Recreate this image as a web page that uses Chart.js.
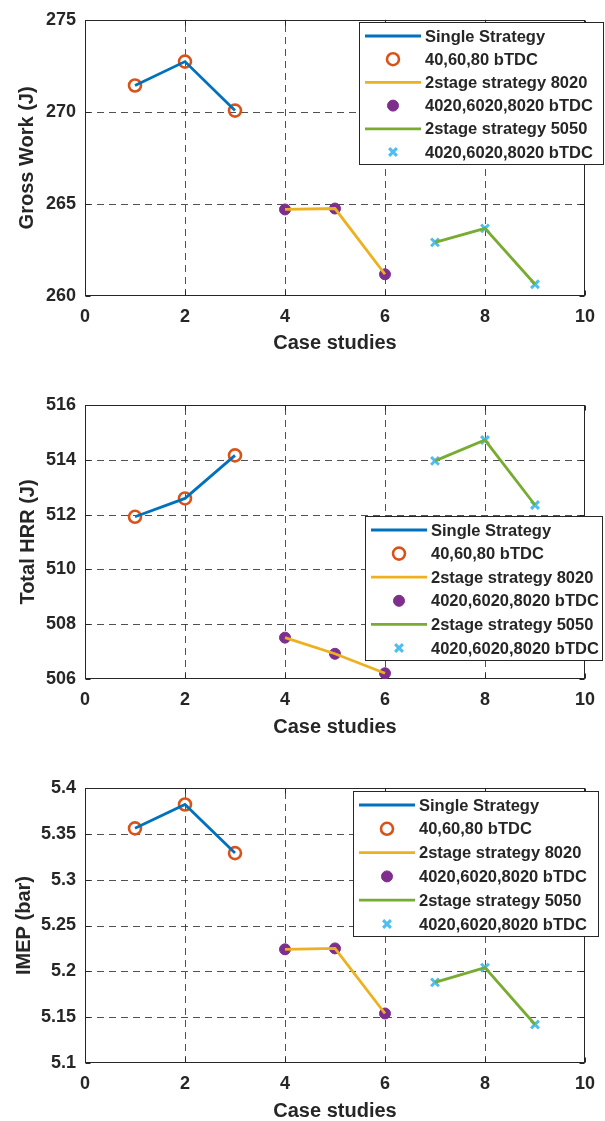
<!DOCTYPE html>
<html lang="en">
<head>
    <meta charset="UTF-8">
    <title>Gross work, total HRR and IMEP by case study</title>
    <script src="https://cdn.jsdelivr.net/npm/chart.js"></script>
    <style>
        body {
            margin: 0;
            background: #fff;
            width: 605px;
            height: 1121px;
            position: relative;
            overflow: hidden;
        }
        .panel {
            position: absolute;
            left: 0;
            width: 605px;
        }
    </style>
</head>
<body>
    <div class="panel" style="top:0;height:360px"><canvas id="grossChart"></canvas></div>
    <div class="panel" style="top:380px;height:360px"><canvas id="hrrChart"></canvas></div>
    <div class="panel" style="top:760px;height:361px"><canvas id="imepChart"></canvas></div>

    <script>
        // case numbers for each injection strategy
        const caseSingle = [1, 2, 3];
        const case8020 = [4, 5, 6];
        const case5050 = [7, 8, 9];

        // gross work (J)
        const grossSingle = [271.43, 272.73, 270.07];
        const gross8020 = [264.70, 264.75, 261.18];
        const gross5050 = [262.91, 263.67, 260.64];

        // total heat release (J)
        const hrrSingle = [511.92, 512.59, 514.16];
        const hrr8020 = [507.51, 506.92, 506.21];
        const hrr5050 = [513.96, 514.72, 512.35];

        // IMEP (bar)
        const imepSingle = [5.356, 5.382, 5.329];
        const imep8020 = [5.224, 5.225, 5.154];
        const imep5050 = [5.188, 5.204, 5.142];

        const seriesLabels = [
            'Single Strategy', '40,60,80 bTDC',
            '2stage strategy 8020', '4020,6020,8020 bTDC',
            '2stage strategy 5050', '4020,6020,8020 bTDC'
        ];

        // axis ticks
        const caseTicks = [0, 2, 4, 6, 8, 10];
        const grossTicks = [260, 265, 270, 275];
        const hrrTicks = [506, 508, 510, 512, 514, 516];
        const imepTicks = [5.1, 5.15, 5.2, 5.25, 5.3, 5.35, 5.4];

        const FONT = "'Liberation Sans', Arial, Helvetica, sans-serif";
        const INK = '#262626';

        function pts(xs, ys) {
            return xs.map((x, i) => ({ x: x, y: ys[i] }));
        }

        // each strategy is a line plus a separate marker series, as in the legend
        function makeDatasets(single, s8020, s5050) {
            return [
                { label: seriesLabels[0], data: pts(caseSingle, single), showLine: true,
                  borderColor: '#0072BD', borderWidth: 2.8, pointRadius: 0 },
                { label: seriesLabels[1], data: pts(caseSingle, single), showLine: false,
                  pointStyle: 'circle', pointRadius: 6, pointBorderWidth: 2.6,
                  borderColor: '#D95319', backgroundColor: 'rgba(0,0,0,0)' },
                { label: seriesLabels[2], data: pts(case8020, s8020), showLine: true,
                  borderColor: '#EDB120', borderWidth: 2.8, pointRadius: 0 },
                { label: seriesLabels[3], data: pts(case8020, s8020), showLine: false,
                  pointStyle: 'circle', pointRadius: 5.5, pointBorderWidth: 1,
                  borderColor: '#7E2F8E', backgroundColor: '#7E2F8E' },
                { label: seriesLabels[4], data: pts(case5050, s5050), showLine: true,
                  borderColor: '#77AC30', borderWidth: 2.8, pointRadius: 0 },
                { label: seriesLabels[5], data: pts(case5050, s5050), showLine: false,
                  pointStyle: 'crossRot', pointRadius: 5.5, pointBorderWidth: 3,
                  borderColor: '#4DBEEE', backgroundColor: '#4DBEEE' }
            ];
        }

        // dashed grid, boxed axes and inward tick marks
        const axesFrame = {
            id: 'axesFrame',
            beforeDatasetsDraw(chart) {
                const { ctx, chartArea: a, scales: { x, y } } = chart;
                ctx.save();
                ctx.strokeStyle = 'rgba(38,38,38,0.8)';
                ctx.lineWidth = 1;
                ctx.setLineDash([7, 5]);
                x.ticks.forEach(t => {
                    const px = Math.round(x.getPixelForValue(t.value)) + 0.5;
                    if (px < a.left + 2 || px > a.right - 2) return;
                    ctx.beginPath();
                    ctx.moveTo(px, a.bottom);
                    ctx.lineTo(px, a.top);
                    ctx.stroke();
                });
                y.ticks.forEach(t => {
                    const py = Math.round(y.getPixelForValue(t.value)) + 0.5;
                    if (py < a.top + 2 || py > a.bottom - 2) return;
                    ctx.beginPath();
                    ctx.moveTo(a.left, py);
                    ctx.lineTo(a.right, py);
                    ctx.stroke();
                });
                ctx.setLineDash([]);
                ctx.strokeStyle = INK;
                const l = Math.round(a.left) + 0.5, r = Math.round(a.right) - 0.5;
                const t = Math.round(a.top) + 0.5, b = Math.round(a.bottom) - 0.5;
                ctx.strokeRect(l, t, r - l, b - t);
                ctx.beginPath();
                x.ticks.forEach(tk => {
                    const px = Math.round(x.getPixelForValue(tk.value)) + 0.5;
                    ctx.moveTo(px, b); ctx.lineTo(px, b - 5);
                    ctx.moveTo(px, t); ctx.lineTo(px, t + 5);
                });
                y.ticks.forEach(tk => {
                    const py = Math.round(y.getPixelForValue(tk.value)) + 0.5;
                    ctx.moveTo(l, py); ctx.lineTo(l + 5, py);
                    ctx.moveTo(r, py); ctx.lineTo(r - 5, py);
                });
                ctx.stroke();
                ctx.restore();
            }
        };

        // boxed legend with separate line and marker rows
        const boxLegend = {
            id: 'boxLegend',
            afterDraw(chart, args, opts) {
                const ctx = chart.ctx;
                const { left, top, width, height } = opts;
                ctx.save();
                ctx.fillStyle = '#fff';
                ctx.fillRect(left, top, width, height);
                ctx.strokeStyle = INK;
                ctx.lineWidth = 1;
                ctx.strokeRect(left + 0.5, top + 0.5, width, height);

                const n = chart.data.datasets.length;
                const gap = (height - 26) / (n - 1);
                chart.data.datasets.forEach((ds, i) => {
                    const cy = top + 14 + gap * i;
                    if (ds.showLine) {
                        ctx.strokeStyle = ds.borderColor;
                        ctx.lineWidth = ds.borderWidth;
                        ctx.beginPath();
                        ctx.moveTo(left + 6, cy);
                        ctx.lineTo(left + 62, cy);
                        ctx.stroke();
                    } else {
                        ctx.strokeStyle = ds.borderColor;
                        ctx.fillStyle = ds.backgroundColor;
                        ctx.lineWidth = ds.pointBorderWidth;
                        Chart.helpers.drawPoint(ctx, {
                            pointStyle: ds.pointStyle,
                            radius: ds.pointRadius,
                            rotation: 0,
                            borderWidth: ds.pointBorderWidth
                        }, left + 34, cy);
                    }
                    ctx.fillStyle = INK;
                    ctx.font = 'bold 16.5px ' + FONT;
                    ctx.textAlign = 'left';
                    ctx.textBaseline = 'middle';
                    ctx.fillText(ds.label, left + 66, cy + 1);
                });
                ctx.restore();
            }
        };

        function buildChart(id, cfg) {
            return new Chart(document.getElementById(id), {
                type: 'scatter',
                data: { datasets: makeDatasets(cfg.single, cfg.s8020, cfg.s5050) },
                plugins: [axesFrame, boxLegend],
                options: {
                    responsive: true,
                    maintainAspectRatio: false,
                    animation: false,
                    layout: { padding: { top: cfg.padTop, right: 11, bottom: 0, left: 0 } },
                    plugins: {
                        legend: { display: false },
                        tooltip: { enabled: false },
                        boxLegend: cfg.legend
                    },
                    scales: {
                        x: {
                            type: 'linear',
                            min: caseTicks[0],
                            max: caseTicks[caseTicks.length - 1],
                            afterBuildTicks: s => { s.ticks = caseTicks.map(v => ({ value: v })); },
                            afterFit: s => { s.height = cfg.xAxisH; },
                            grid: { display: false, drawTicks: false },
                            border: { display: false },
                            ticks: {
                                padding: 10,
                                color: INK,
                                font: { family: FONT, size: 18, weight: 'bold' },
                                callback: v => String(v)
                            },
                            title: {
                                display: true,
                                text: 'Case studies',
                                color: INK,
                                font: { family: FONT, size: 20, weight: 'bold', lineHeight: 1 },
                                padding: { top: 0, bottom: cfg.xTitlePad }
                            }
                        },
                        y: {
                            type: 'linear',
                            min: cfg.ticks[0],
                            max: cfg.ticks[cfg.ticks.length - 1],
                            afterBuildTicks: s => { s.ticks = cfg.ticks.map(v => ({ value: v })); },
                            afterFit: s => { s.width = 85; },
                            grid: { display: false, drawTicks: false },
                            border: { display: false },
                            ticks: {
                                padding: 9,
                                color: INK,
                                font: { family: FONT, size: 18, weight: 'bold' },
                                callback: v => String(v)
                            },
                            title: {
                                display: true,
                                text: cfg.yTitle,
                                color: INK,
                                font: { family: FONT, size: 20, weight: 'bold', lineHeight: 1 },
                                padding: { top: cfg.yTitlePad, bottom: 0 }
                            }
                        }
                    }
                }
            });
        }

        buildChart('grossChart', {
            single: grossSingle, s8020: gross8020, s5050: gross5050,
            ticks: grossTicks, yTitle: 'Gross Work (J)',
            padTop: 19, xAxisH: 64, xTitlePad: 7, yTitlePad: 17,
            legend: { left: 359, top: 22, width: 244, height: 142 }
        });

        buildChart('hrrChart', {
            single: hrrSingle, s8020: hrr8020, s5050: hrr5050,
            ticks: hrrTicks, yTitle: 'Total HRR (J)',
            padTop: 25, xAxisH: 61, xTitlePad: 3, yTitlePad: 18,
            legend: { left: 365, top: 136, width: 237, height: 144 }
        });

        buildChart('imepChart', {
            single: imepSingle, s8020: imep8020, s5050: imep5050,
            ticks: imepTicks, yTitle: 'IMEP (bar)',
            padTop: 28, xAxisH: 58, xTitlePad: 0, yTitlePad: 14,
            legend: { left: 353, top: 31, width: 245, height: 145 }
        });
    </script>
</body>
</html>
